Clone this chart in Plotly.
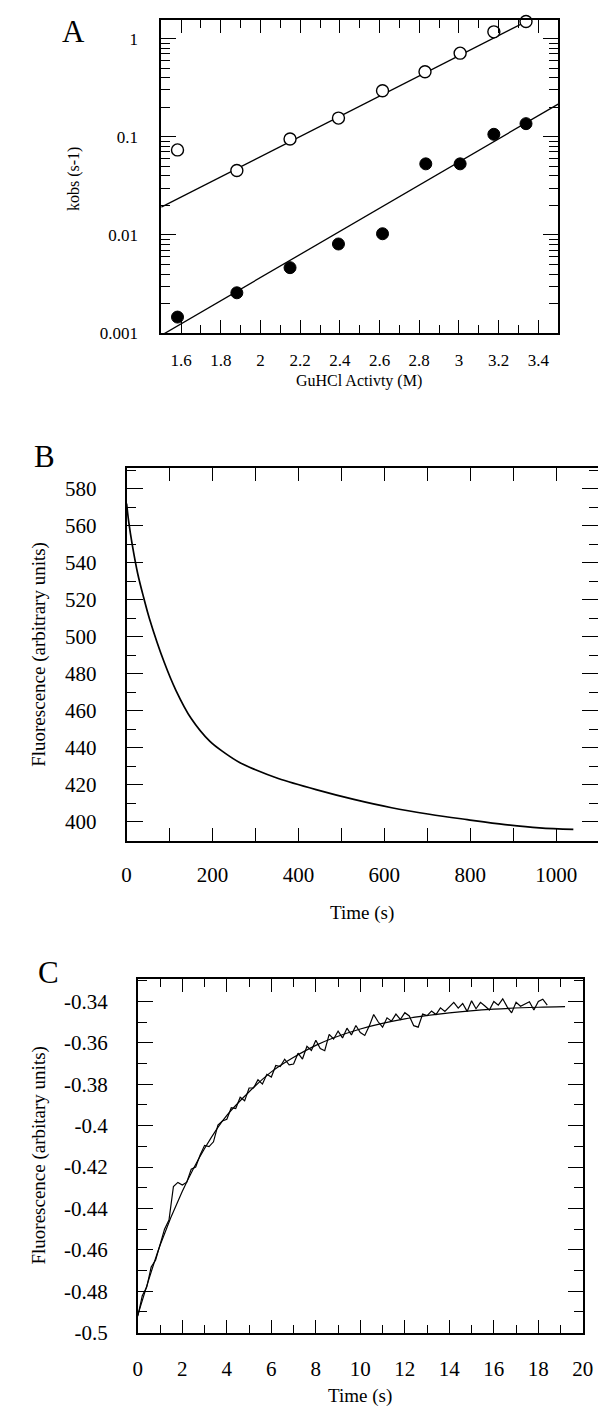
import plotly.graph_objects as go

# ---------------- Panel A data ----------------
a_activity = [1.582, 1.881, 2.149, 2.393, 2.615, 2.829, 3.006, 3.176, 3.338]
a_kobs_open = [0.0735, 0.0454, 0.0948, 0.155, 0.294, 0.46, 0.71, 1.17, 1.49]
a_activity_filled = [1.582, 1.881, 2.149, 2.393, 2.615, 2.833, 3.006, 3.176, 3.338]
a_kobs_filled = [0.00146, 0.00258, 0.00465, 0.0081, 0.0103, 0.053, 0.053, 0.106, 0.136]
a_fit_x = [1.5, 3.5]
a_fit_open = [0.0192, 2.18]
a_fit_filled = [0.00095, 0.215]

# ---------------- Panel B data ----------------
b_time = [0, 5, 13, 26, 40, 53, 88, 115, 150, 194, 229, 264, 300, 353, 441, 529, 617, 705, 793,
          881, 961, 1040]
b_fluor = [572, 562, 550, 534, 521, 510, 486, 471, 456, 443.5, 437.2, 432, 428.2, 423.5, 417.5,
           412.2, 407.7, 404.2, 401.3, 398.6, 396.8, 396.0]

# ---------------- Panel C data ----------------
c_time = [0.0, 0.2, 0.4, 0.6, 0.8, 1.0, 1.2, 1.4, 1.6, 1.8, 2.0, 2.2, 2.4, 2.6, 2.8, 3.0, 3.2, 3.4,
          3.6, 3.8, 4.0, 4.2, 4.4, 4.6, 4.8, 5.0, 5.2, 5.4, 5.6, 5.8, 6.0, 6.2, 6.4, 6.6, 6.8, 7.0,
          7.2, 7.4, 7.6, 7.8, 8.0, 8.2, 8.4, 8.6, 8.8, 9.0, 9.2, 9.4, 9.6, 9.8, 10.0, 10.2, 10.4,
          10.6, 10.8, 11.0, 11.2, 11.4, 11.6, 11.8, 12.0, 12.2, 12.4, 12.6, 12.8, 13.0, 13.2, 13.4,
          13.6, 13.8, 14.0, 14.2, 14.4, 14.6, 14.8, 15.0, 15.2, 15.4, 15.6, 15.8, 16.0, 16.2, 16.4,
          16.6, 16.8, 17.0, 17.2, 17.4, 17.6, 17.8, 18.0, 18.2, 18.4]
c_fluor = [-0.4920, -0.4821, -0.4780, -0.4683, -0.4649, -0.4568, -0.4500, -0.4456, -0.4294, -0.4274,
           -0.4287, -0.4273, -0.4210, -0.4200, -0.4142, -0.4095, -0.4101, -0.4078, -0.3997, -0.3977,
           -0.3969, -0.3913, -0.3917, -0.3863, -0.3880, -0.3818, -0.3818, -0.3778, -0.3799, -0.3752,
           -0.3765, -0.3709, -0.3714, -0.3679, -0.3706, -0.3702, -0.3650, -0.3678, -0.3617, -0.3637,
           -0.3587, -0.3627, -0.3638, -0.3559, -0.3581, -0.3543, -0.3576, -0.3529, -0.3562, -0.3516,
           -0.3550, -0.3564, -0.3519, -0.3463, -0.3498, -0.3524, -0.3479, -0.3495, -0.3461, -0.3487,
           -0.3454, -0.3470, -0.3517, -0.3524, -0.3461, -0.3468, -0.3446, -0.3463, -0.3431, -0.3448,
           -0.3426, -0.3404, -0.3432, -0.3410, -0.3448, -0.3397, -0.3435, -0.3404, -0.3422, -0.3441,
           -0.3400, -0.3418, -0.3387, -0.3426, -0.3455, -0.3404, -0.3423, -0.3412, -0.3401, -0.3441,
           -0.3400, -0.3389, -0.3418]
c_fit_time = [0, 1, 2, 3, 4, 6, 8, 10, 12, 14, 16, 18, 19.2]
c_fit_fluor = [-0.4915, -0.4578, -0.4317, -0.4110, -0.3950, -0.3740, -0.3612, -0.3533, -0.3484,
               -0.3455, -0.3437, -0.3428, -0.3425]

c_ytick_vals = [-0.5, -0.48, -0.46, -0.44, -0.42, -0.4, -0.38, -0.36, -0.34]
c_ytick_text = ["-0.5", "-0.48", "-0.46", "-0.44", "-0.42", "-0.4", "-0.38", "-0.36", "-0.34"]
a_ytick_vals = [0.001, 0.01, 0.1, 1]
a_ytick_text = ["0.001", "0.01", "0.1", "1"]

W, H = 606, 1416
SERIF = "Liberation Serif"


def px(x):
    return x / W


def py(y):
    return 1 - y / H


fig = go.Figure()

# Panel A
fig.add_trace(go.Scatter(x=a_fit_x, y=a_fit_open, mode="lines", line=dict(color="black", width=1.3),
                         xaxis="x", yaxis="y"))
fig.add_trace(go.Scatter(x=a_fit_x, y=a_fit_filled, mode="lines", line=dict(color="black", width=1.3),
                         xaxis="x", yaxis="y"))
fig.add_trace(go.Scatter(x=a_activity, y=a_kobs_open, mode="markers",
                         marker=dict(symbol="circle", size=12, color="white",
                                     line=dict(color="black", width=1.4)),
                         xaxis="x", yaxis="y", cliponaxis=False))
fig.add_trace(go.Scatter(x=a_activity_filled, y=a_kobs_filled, mode="markers",
                         marker=dict(symbol="circle", size=12, color="black",
                                     line=dict(color="black", width=1)),
                         xaxis="x", yaxis="y", cliponaxis=False))

# Panel B
fig.add_trace(go.Scatter(x=b_time, y=b_fluor, mode="lines",
                         line=dict(color="black", width=1.7, shape="spline", smoothing=1.0),
                         xaxis="x2", yaxis="y2"))

# Panel C
fig.add_trace(go.Scatter(x=c_fit_time, y=c_fit_fluor, mode="lines",
                         line=dict(color="black", width=1.2, shape="spline", smoothing=0.8),
                         xaxis="x3", yaxis="y3"))
fig.add_trace(go.Scatter(x=c_time, y=c_fluor, mode="lines", line=dict(color="black", width=1.2),
                         xaxis="x3", yaxis="y3"))

common = dict(showline=True, linecolor="black", linewidth=1.6, mirror="ticks", ticks="inside",
              tickcolor="black", tickwidth=1.3, showgrid=False, zeroline=False)

a_minor_vals = [m * d for d in [0.001, 0.01, 0.1, 1] for m in range(2, 10)]

fig.update_layout(
    width=W, height=H, autosize=False, margin=dict(l=0, r=0, t=0, b=0),
    paper_bgcolor="white", plot_bgcolor="white", showlegend=False,
    xaxis=dict(**common, domain=[px(152), px(559)], anchor="y", range=[1.5, 3.5],
               tickmode="linear", tick0=1.6, dtick=0.2, ticklen=13, ticklabelstandoff=11,
               tickfont=dict(family=SERIF, size=17, color="black"),
               minor=dict(tickmode="linear", tick0=1.5, dtick=0.1, ticklen=8, ticks="inside",
                          tickcolor="black", tickwidth=1.3, showgrid=False)),
    yaxis=dict(**common, domain=[py(328), py(12)], anchor="x", type="log", range=[-3, 0.19],
               tickmode="array", tickvals=a_ytick_vals, ticktext=a_ytick_text, ticklen=15,
               ticklabelstandoff=18, tickfont=dict(family=SERIF, size=17, color="black"),
               minor=dict(tickmode="array", tickvals=a_minor_vals, ticklen=9, ticks="inside",
                          tickcolor="black", tickwidth=1.3, showgrid=False)),
    xaxis2=dict(**common, domain=[px(116.5), px(601)], anchor="y2", range=[0, 1100],
                tickmode="linear", tick0=0, dtick=200, ticklen=13, ticklabelstandoff=14,
                tickfont=dict(family=SERIF, size=21, color="black"),
                minor=dict(tickmode="linear", tick0=0, dtick=100, ticklen=13, ticks="inside",
                           tickcolor="black", tickwidth=1.3, showgrid=False)),
    yaxis2=dict(**common, domain=[py(840), py(464)], anchor="x2", range=[389.8, 591.2],
                tickmode="linear", tick0=400, dtick=20, ticklen=17, ticklabelstandoff=24,
                tickfont=dict(family=SERIF, size=21, color="black"),
                minor=dict(tickmode="linear", tick0=390, dtick=10, ticklen=10, ticks="inside",
                           tickcolor="black", tickwidth=1.3, showgrid=False)),
    xaxis3=dict(**common, domain=[px(128), px(584.3)], anchor="y3", range=[0, 20],
                tickmode="linear", tick0=0, dtick=2, ticklen=13, ticklabelstandoff=16,
                tickfont=dict(family=SERIF, size=21, color="black"),
                minor=dict(tickmode="linear", tick0=0, dtick=1, ticklen=8, ticks="inside",
                           tickcolor="black", tickwidth=1.3, showgrid=False)),
    yaxis3=dict(**common, domain=[py(1336), py(979)], anchor="x3", range=[-0.5, -0.329],
                tickmode="array", tickvals=c_ytick_vals, ticktext=c_ytick_text, ticklen=15,
                ticklabelstandoff=24, tickfont=dict(family=SERIF, size=21, color="black"),
                minor=dict(tickmode="linear", tick0=-0.5, dtick=0.01, ticklen=9, ticks="inside",
                           tickcolor="black", tickwidth=1.3, showgrid=False)),
)


def label(text, x, y, size, angle=0):
    fig.add_annotation(text=text, x=px(x), y=py(y), xref="paper", yref="paper",
                       showarrow=False, textangle=angle, xanchor="center", yanchor="middle",
                       font=dict(family=SERIF, size=size, color="black"))


label("A", 62, 24, 31)
label("B", 32, 452, 31)
label("C", 36, 973, 31)
label("kobs (s-1)", 62, 172, 16, -90)
label("GuHCl Activty (M)", 355, 376, 16)
label("Fluorescence (arbitrary units)", 27, 652, 19, -90)
label("Time (s)", 358, 913, 19)
label("Fluorescence (arbitary units)", 27, 1157, 19, -90)
label("Time (s)", 356, 1400, 19)

fig.write_html("out.html")
